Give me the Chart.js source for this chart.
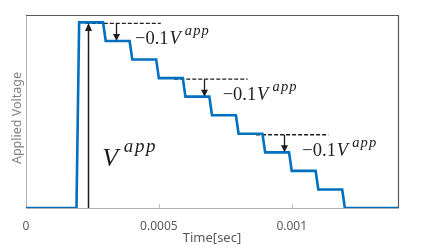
<!DOCTYPE html>
<html>
<head>
<meta charset="utf-8">
<script src="https://cdn.jsdelivr.net/npm/chart.js@4/dist/chart.umd.min.js"></script>
<style>
html,body{margin:0;padding:0;background:#fff;}
canvas{display:block;}
</style>
</head>
<body>
<canvas id="c" width="436" height="251"></canvas>
<script>
// ---- data ----
const timeSec = [0, 0.00019, 0.0002, 0.00029, 0.0003, 0.00039, 0.0004, 0.00049, 0.0005, 0.00059, 0.0006, 0.00069, 0.0007, 0.00079, 0.0008, 0.00089, 0.0009, 0.00099, 0.001, 0.00109, 0.0011, 0.00119, 0.0012, 0.0014];
const voltage = [0, 0, 1, 1, 0.9, 0.9, 0.8, 0.8, 0.7, 0.7, 0.6, 0.6, 0.5, 0.5, 0.4, 0.4, 0.3, 0.3, 0.2, 0.2, 0.1, 0.1, 0, 0];
const tickValues = [0, 0.0005, 0.001];
const tickLabels = ['0', '0.0005', '0.001'];
const xTitle = 'Time[sec]';
const yTitle = 'Applied Voltage';
// annotations (data coordinates)
const stepArrowTimes = [0.00034, 0.00067, 0.00097];
const stepArrowFrom = [1.0, 0.7, 0.4];
const stepArrowTo = [0.9, 0.6, 0.3];
const dashStartTimes = [0.000225, 0.000558, 0.000866];
const dashEndTimes = [0.000507, 0.000834, 0.001138];
const stepLabelMain = '\u22120.1';
const stepLabelVar = 'V';
const stepLabelSup = 'app';
const vappArrowTime = 0.000234;
const vappArrowTop = 1.0;
const vappLabelTime = 0.000287;
const vappLabelLevel = 0.225;

const INK = '#1e1e1e';

function arrowDown(ctx, x, y1, y2, head, hw, lw) {
  ctx.save();
  ctx.strokeStyle = INK; ctx.fillStyle = INK; ctx.lineWidth = lw;
  ctx.beginPath(); ctx.moveTo(x, y1); ctx.lineTo(x, y2 - head + 1); ctx.stroke();
  ctx.beginPath(); ctx.moveTo(x, y2); ctx.lineTo(x - hw / 2, y2 - head); ctx.lineTo(x + hw / 2, y2 - head); ctx.closePath(); ctx.fill();
  ctx.restore();
}
function arrowUp(ctx, x, y1, y2, head, hw, lw) {
  ctx.save();
  ctx.strokeStyle = INK; ctx.fillStyle = INK; ctx.lineWidth = lw;
  ctx.beginPath(); ctx.moveTo(x, y1); ctx.lineTo(x, y2 + head - 1); ctx.stroke();
  ctx.beginPath(); ctx.moveTo(x, y2); ctx.lineTo(x - hw / 2, y2 + head); ctx.lineTo(x + hw / 2, y2 + head); ctx.closePath(); ctx.fill();
  ctx.restore();
}
function mathLabel(ctx, x, y, main, v, sup, size, supSize, raise) {
  ctx.save();
  ctx.fillStyle = INK;
  ctx.textBaseline = 'alphabetic';
  ctx.textAlign = 'left';
  let cx = x;
  if (main) {
    ctx.font = size + 'px "Liberation Serif"';
    ctx.fillText(main, cx, y);
    cx += ctx.measureText(main).width + size * 0.05;
  }
  ctx.font = 'italic ' + size + 'px "Liberation Serif"';
  ctx.fillText(v, cx, y);
  cx += ctx.measureText(v).width + size * 0.22;
  ctx.font = 'italic ' + supSize + 'px "Liberation Serif"';
  ctx.letterSpacing = (supSize * 0.08) + 'px';
  ctx.fillText(sup, cx, y - raise);
  ctx.restore();
}

const annot = {
  id: 'annot',
  beforeDatasetsDraw(chart) {
    const {ctx, chartArea: a, scales: {x, y}} = chart;
    ctx.save();
    // top/right frame
    ctx.strokeStyle = '#595959'; ctx.lineWidth = 1.2;
    ctx.beginPath();
    ctx.moveTo(a.left, a.top + 0.5); ctx.lineTo(a.right + 0.5, a.top + 0.5); ctx.lineTo(a.right + 0.5, a.bottom);
    ctx.stroke();
    // inner tick marks
    ctx.strokeStyle = '#bfbfbf'; ctx.lineWidth = 1;
    x.ticks.forEach(t => {
      if (t.value <= x.min) return;
      const px = Math.round(x.getPixelForValue(t.value)) + 0.5;
      ctx.beginPath(); ctx.moveTo(px, a.bottom); ctx.lineTo(px, a.bottom - 4); ctx.stroke();
    });
    // dashed reference lines
    ctx.strokeStyle = INK; ctx.lineWidth = 1.3; ctx.setLineDash([4, 2]);
    stepArrowFrom.forEach((lv, i) => {
      const py = y.getPixelForValue(lv) + 1;
      ctx.beginPath();
      ctx.moveTo(x.getPixelForValue(dashStartTimes[i]), py);
      ctx.lineTo(x.getPixelForValue(dashEndTimes[i]), py);
      ctx.stroke();
    });
    ctx.restore();
  },
  afterDatasetsDraw(chart) {
    const {ctx, scales: {x, y}} = chart;
    // step arrows and labels
    stepArrowTimes.forEach((t, i) => {
      const px = Math.round(x.getPixelForValue(t)) + 0.5;
      const y1 = y.getPixelForValue(stepArrowFrom[i]) + 1;
      const y2 = y.getPixelForValue(stepArrowTo[i]);
      arrowDown(ctx, px, y1, y2, 7, 7, 1.3);
      const lx = x.getPixelForValue(t + 0.00007);
      const ly = y.getPixelForValue(stepArrowTo[i] - 0.018);
      mathLabel(ctx, lx, ly, stepLabelMain, stepLabelVar, stepLabelSup, 18.5, 14.5, 9);
    });
    // V^app arrow
    const ax = Math.round(x.getPixelForValue(vappArrowTime)) + 0.5;
    arrowUp(ctx, ax, y.getPixelForValue(0), y.getPixelForValue(vappArrowTop) + 0.5, 8, 7, 1.5);
    mathLabel(ctx, x.getPixelForValue(vappLabelTime), y.getPixelForValue(vappLabelLevel), '', stepLabelVar, stepLabelSup, 26, 19, 14);
  }
};

new Chart(document.getElementById('c'), {
  type: 'line',
  data: {
    datasets: [{
      data: timeSec.map((t, i) => ({x: t, y: voltage[i]})),
      borderColor: '#0070C0',
      borderWidth: 2.6,
      pointRadius: 0,
      tension: 0,
      borderJoinStyle: 'miter',
      fill: false
    }]
  },
  options: {
    responsive: false,
    devicePixelRatio: 1,
    animation: false,
    layout: {padding: {top: 15, right: 38, bottom: 0, left: 0}},
    plugins: {legend: {display: false}, tooltip: {enabled: false}},
    scales: {
      x: {
        type: 'linear', min: 0, max: 0.0014,
        afterBuildTicks: s => { s.ticks = tickValues.map(v => ({value: v})); },
        afterFit: s => { s.height = 43; },
        grid: {display: false, drawTicks: false},
        border: {display: true, color: '#b0b0b0', width: 1},
        ticks: {
          padding: 11,
          color: '#595959',
          font: {family: '"Noto Sans"', size: 12},
          maxRotation: 0,
          callback: (v, i) => tickLabels[i]
        },
        title: {display: true, text: xTitle, color: '#595959', font: {family: '"Noto Sans"', size: 13}, padding: {top: 0, bottom: 5}}
      },
      y: {
        type: 'linear', min: 0, max: 1.04,
        afterFit: s => { s.width = 26; },
        grid: {display: false, drawTicks: false},
        border: {display: true, color: '#b0b0b0', width: 1},
        ticks: {display: false},
        title: {display: true, text: yTitle + '    ', color: '#808080', font: {family: '"Noto Sans"', size: 12.5}, padding: {top: 10, bottom: 0}}
      }
    }
  },
  plugins: [annot]
});
</script>
</body>
</html>
